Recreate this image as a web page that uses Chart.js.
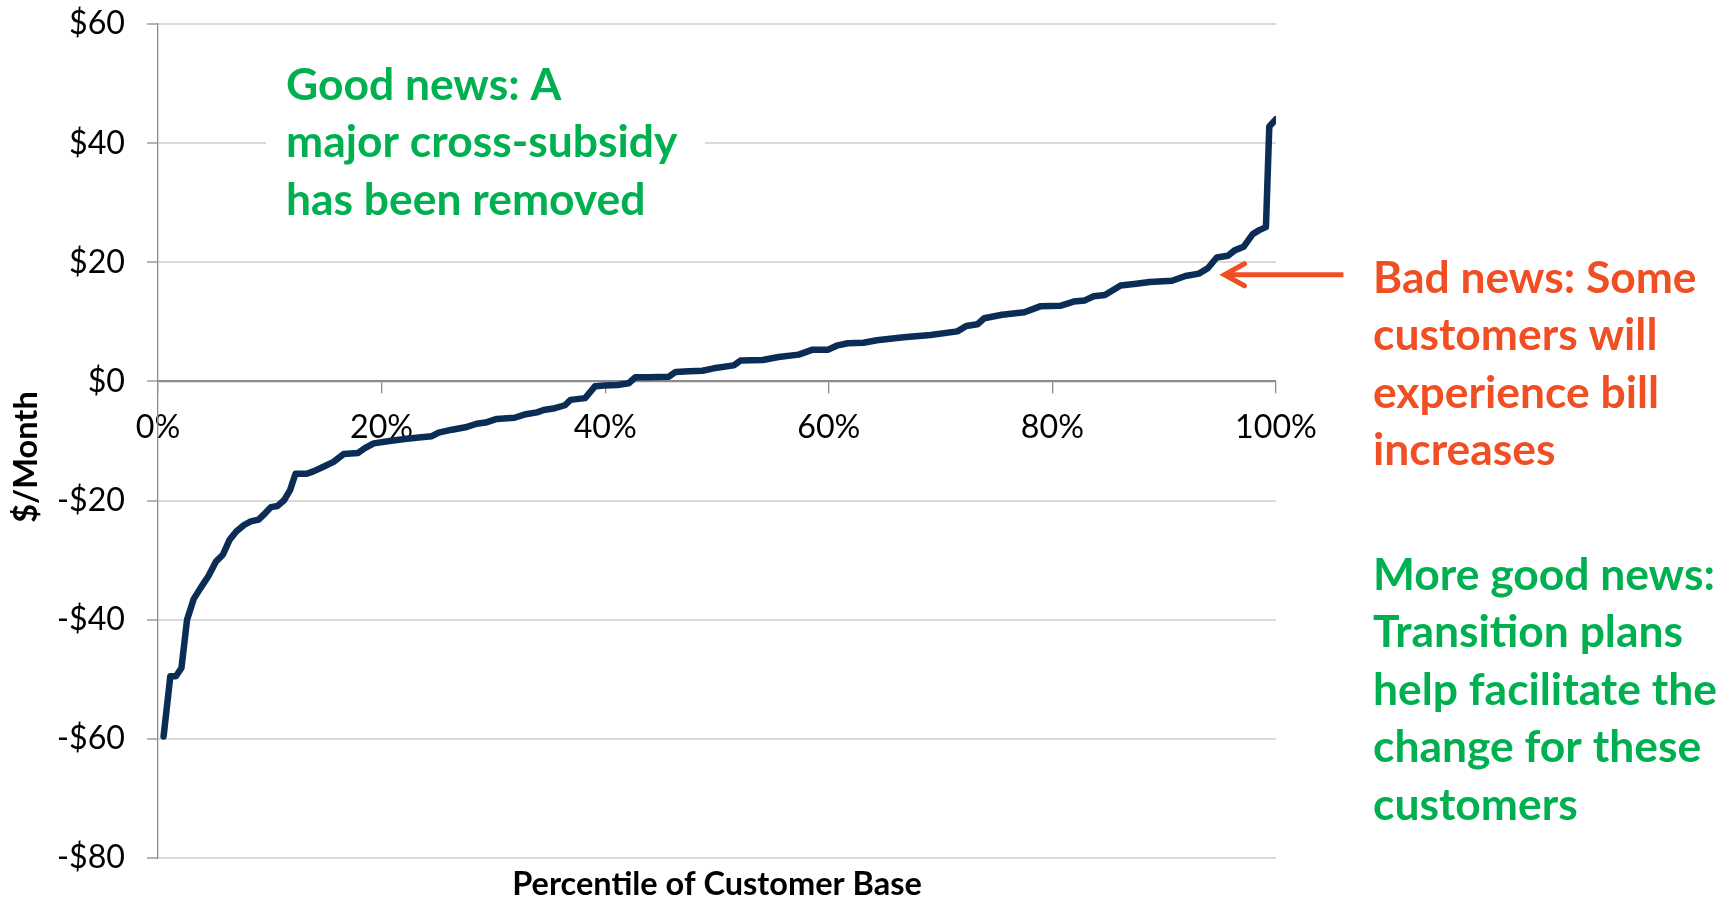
<!DOCTYPE html>
<html>
<head>
<meta charset="utf-8">
<script src="https://cdn.jsdelivr.net/npm/chart.js@4.4.1/dist/chart.umd.min.js"></script>
<style>
  html, body { margin: 0; padding: 0; background: #ffffff; }
  #c { display: block; }
</style>
</head>
<body>
<canvas id="c" width="1734" height="899"></canvas>
<script>
// ---------------- DATA ----------------
const percentile = [
  0.5, 1.1, 1.6, 2.1, 2.6, 3.2, 3.8, 4.5, 5.2, 5.8,
  6.4, 7.0, 7.7, 8.3, 9.0, 9.6, 10.1, 10.7, 11.3, 11.8,
  12.3, 13.3, 13.9, 14.7, 15.7, 16.6, 17.9, 18.5, 19.3, 20.7,
  21.9, 23.3, 24.5, 25.1, 26.3, 27.5, 28.5, 29.3, 30.3, 31.9,
  32.9, 33.9, 34.5, 35.5, 36.4, 36.9, 38.2, 39.1, 39.9, 41.1,
  42.1, 42.7, 43.9, 45.7, 46.3, 47.5, 48.7, 49.7, 51.5, 52.1,
  54.1, 55.5, 57.3, 58.5, 59.9, 60.7, 61.7, 63.1, 64.3, 66.7,
  69.1, 71.5, 72.3, 73.3, 73.9, 75.5, 77.5, 78.9, 80.7, 81.9,
  82.9, 83.7, 84.7, 86.1, 87.5, 88.7, 90.7, 91.9, 93.1, 93.9,
  94.7, 95.7, 96.3, 97.1, 97.9, 98.5, 99.1, 99.4, 100.0
];
const dollarsPerMonth = [
  -59.6, -49.5, -49.5, -48.1, -40.0, -36.5, -34.7, -32.7, -30.2, -29.1,
  -26.6, -25.2, -24.1, -23.5, -23.2, -22.1, -21.1, -20.9, -19.9, -18.3,
  -15.5, -15.5, -15.1, -14.4, -13.5, -12.2, -12.0, -11.2, -10.4, -10.0,
  -9.7, -9.4, -9.2, -8.6, -8.1, -7.7, -7.1, -6.9, -6.3, -6.1,
  -5.5, -5.2, -4.8, -4.5, -4.0, -3.1, -2.8, -0.8, -0.7, -0.6,
  -0.3, 0.7, 0.7, 0.8, 1.6, 1.7, 1.8, 2.2, 2.7, 3.5,
  3.6, 4.1, 4.5, 5.3, 5.3, 6.0, 6.4, 6.5, 6.9, 7.4,
  7.8, 8.4, 9.3, 9.6, 10.6, 11.2, 11.6, 12.6, 12.7, 13.4,
  13.6, 14.3, 14.5, 16.1, 16.4, 16.7, 16.9, 17.7, 18.1, 19.0,
  20.8, 21.1, 22.0, 22.6, 24.7, 25.4, 25.9, 42.8, 44.0
];
const xTickValues = [0, 20, 40, 60, 80, 100];
const yTickValues = [-80, -60, -40, -20, 0, 20, 40, 60];
const xAxisTitle = 'Percentile of Customer Base';
const yAxisTitle = '$/Month';
const goodNewsLines = ['Good news: A', 'major cross-subsidy', 'has been removed'];
const badNewsLines = ['Bad news: Some', 'customers will', 'experience bill', 'increases'];
const moreGoodNewsLines = ['More good news:', 'Transition plans', 'help facilitate the', 'change for these', 'customers'];
// point the arrow at (percentile, $/month)
const arrowTarget = { x: 95.3, y: 17.9 };

// ---------------- STYLE HELPERS ----------------
const FAMILY = 'Lato, "Open Sans", sans-serif';
function fitSize(text, weight, target) {
  const c = document.createElement('canvas').getContext('2d');
  c.font = weight + ' 100px ' + FAMILY;
  return Math.round(1000 * target / c.measureText(text).width) / 10;
}
const tickSize = fitSize('-$20', 'normal', 68);
const titleSize = fitSize(xAxisTitle, 'bold', 410);
const ySize = fitSize(yAxisTitle, 'bold', 132);
const noteSize = fitSize(goodNewsLines[1] + badNewsLines[0] + moreGoodNewsLines[2], 'bold', 392 + 322 + 345);

const GREEN = '#00B050';
const RED = '#F04E23';
const NAVY = '#0B2D55';
const AXIS = '#8C8C8C';
const GRID = '#DADADA';

const fmtMoney = v => (v < 0 ? '-$' + Math.abs(v) : '$' + v);

const notesPlugin = {
  id: 'notes',
  afterDraw(chart) {
    const { ctx, chartArea, scales } = chart;
    ctx.save();
    // white text box behind the first note (hides the gridline, as in the original)
    ctx.fillStyle = '#ffffff';
    ctx.fillRect(266, 45, 439, 195);

    // axis titles
    ctx.fillStyle = '#000000';
    ctx.font = 'bold ' + titleSize + 'px ' + FAMILY;
    ctx.textAlign = 'center';
    ctx.textBaseline = 'alphabetic';
    ctx.fillText(xAxisTitle, (chartArea.left + chartArea.right) / 2, 895);

    ctx.save();
    ctx.font = 'bold ' + ySize + 'px ' + FAMILY;
    ctx.translate(37, 457);
    ctx.rotate(-Math.PI / 2);
    ctx.fillText(yAxisTitle, 0, 0);
    ctx.restore();

    // notes
    ctx.textAlign = 'left';
    ctx.font = 'bold ' + noteSize + 'px ' + FAMILY;
    const drawBlock = (lines, x, y0, color) => {
      ctx.fillStyle = color;
      lines.forEach((t, i) => ctx.fillText(t, x, y0 + i * 57.4));
    };
    drawBlock(goodNewsLines, 286, 100, GREEN);
    drawBlock(badNewsLines, 1373, 293, RED);
    drawBlock(moreGoodNewsLines, 1373, 590, GREEN);

    // arrow
    const tx = scales.x.getPixelForValue(arrowTarget.x);
    const ty = scales.y.getPixelForValue(arrowTarget.y);
    ctx.strokeStyle = RED;
    ctx.lineWidth = 5;
    ctx.lineCap = 'butt';
    ctx.beginPath();
    ctx.moveTo(tx + 2, ty);
    ctx.lineTo(tx + 120, ty);
    ctx.stroke();
    ctx.lineCap = 'round';
    ctx.lineJoin = 'miter';
    ctx.beginPath();
    ctx.moveTo(tx + 21, ty - 11);
    ctx.lineTo(tx + 1, ty);
    ctx.lineTo(tx + 21, ty + 11);
    ctx.stroke();
    ctx.restore();
  }
};

new Chart(document.getElementById('c'), {
  type: 'line',
  data: {
    datasets: [{
      data: percentile.map((p, i) => ({ x: p, y: dollarsPerMonth[i] })),
      borderColor: NAVY,
      borderWidth: 6.5,
      pointRadius: 0,
      tension: 0,
      borderJoinStyle: 'round',
      borderCapStyle: 'round',
      fill: false
    }]
  },
  options: {
    responsive: false,
    animation: false,
    events: [],
    layout: { padding: { left: 0, top: 24, right: 458, bottom: 41 } },
    plugins: { legend: { display: false }, tooltip: { enabled: false }, title: { display: false } },
    scales: {
      x: {
        type: 'linear',
        min: 0,
        max: 100,
        position: { y: 0 },
        afterBuildTicks: s => { s.ticks = xTickValues.map(v => ({ value: v })); },
        afterFit: s => { s.paddingTop = 0; s.paddingBottom = 0; },
        grid: { display: true, drawOnChartArea: false, drawTicks: true, tickLength: 11, color: AXIS, lineWidth: 1.3 },
        border: { display: true, color: AXIS, width: 1.3 },
        ticks: {
          padding: 16,
          color: '#000000',
          font: { family: FAMILY, size: tickSize },
          maxRotation: 0,
          callback: v => v + '%'
        },
        title: { display: false }
      },
      y: {
        type: 'linear',
        min: -80,
        max: 60,
        afterBuildTicks: s => { s.ticks = yTickValues.map(v => ({ value: v })); },
        afterFit: s => { s.width = 158; s.paddingTop = 0; s.paddingBottom = 0; },
        grid: {
          display: true,
          drawOnChartArea: true,
          drawTicks: true,
          tickLength: 11,
          color: ctx => (ctx.tick && ctx.tick.value === 0 ? AXIS : GRID),
          lineWidth: 2,
          tickColor: AXIS,
          tickWidth: 1.3
        },
        border: { display: true, color: AXIS, width: 1.3 },
        ticks: {
          padding: 22,
          color: '#000000',
          font: { family: FAMILY, size: tickSize },
          callback: v => fmtMoney(v)
        },
        title: { display: false }
      }
    }
  },
  plugins: [notesPlugin]
});
</script>
</body>
</html>
